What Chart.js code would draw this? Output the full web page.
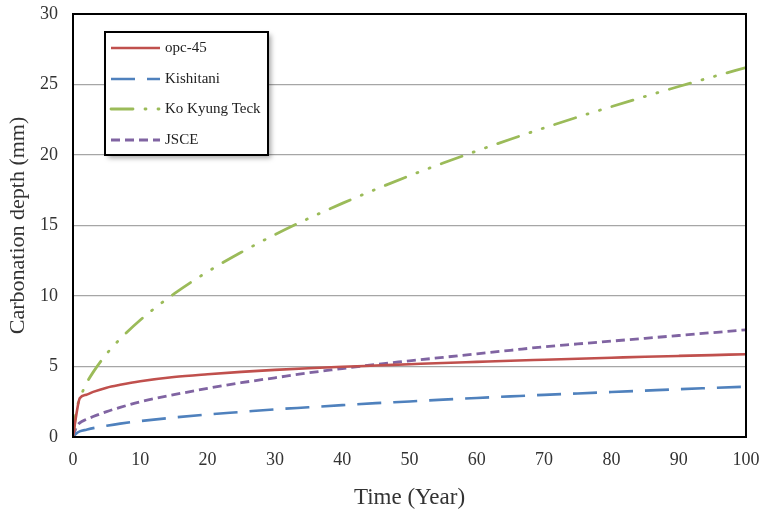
<!DOCTYPE html>
<html>
<head>
<meta charset="utf-8">
<script src="https://cdn.jsdelivr.net/npm/chart.js@4/dist/chart.umd.min.js"></script>
<style>
  html, body { margin: 0; padding: 0; background: #fff; }
  #wrap { width: 763px; height: 510px; position: relative; }
</style>
</head>
<body>
<div id="wrap"><canvas id="chart" width="763" height="510"></canvas></div>
<script>
// time axis (years) shared by every series
var years = [0, 0.5, 1, 2, 3, 5, 7, 10, 15, 20, 25, 30, 35, 40, 45, 50, 55, 60, 65, 70, 75, 80, 85, 90, 95, 100];

// carbonation depth (mm)
var opc45 = [0, 1.6, 2.75, 3.0, 3.2, 3.5, 3.7, 3.95, 4.25, 4.45, 4.62, 4.76, 4.88, 4.98, 5.07, 5.16, 5.25, 5.33, 5.41, 5.48, 5.55, 5.62, 5.69, 5.75, 5.81, 5.87];
var kishitani = [0, 0.25, 0.4, 0.52, 0.63, 0.8, 0.95, 1.13, 1.38, 1.6, 1.78, 1.96, 2.11, 2.26, 2.4, 2.52, 2.65, 2.77, 2.88, 2.99, 3.09, 3.19, 3.29, 3.39, 3.48, 3.57];
var koKyungTeck = [0, 1.9, 2.7, 3.8, 4.6, 5.9, 6.95, 8.3, 10.15, 11.72, 13.1, 14.35, 15.5, 16.57, 17.57, 18.53, 19.43, 20.29, 21.12, 21.92, 22.69, 23.43, 24.15, 24.86, 25.54, 26.2];
var jsce = [0, 0.7, 1.0, 1.25, 1.45, 1.8, 2.1, 2.5, 3.0, 3.45, 3.85, 4.2, 4.55, 4.85, 5.15, 5.4, 5.65, 5.9, 6.15, 6.4, 6.6, 6.8, 7.0, 7.2, 7.4, 7.6];

var seriesNames = ["opc-45", "Kishitani", "Ko Kyung Teck", "JSCE"];

var xTicks = [0, 10, 20, 30, 40, 50, 60, 70, 80, 90, 100];
var yTicks = [0, 5, 10, 15, 20, 25, 30];

function pts(vals) {
  return years.map(function (t, i) { return { x: t, y: vals[i] }; });
}

var serif = '"Liberation Serif", "Times New Roman", serif';

/* legend box drawn inside the plot, like the original */
var boxLegend = {
  id: "boxLegend",
  afterDraw: function (chart) {
    var ctx = chart.ctx;
    var x0 = 105, y0 = 32, w = 163, h = 123;
    ctx.save();
    ctx.shadowColor = "rgba(0,0,0,0.35)";
    ctx.shadowBlur = 5;
    ctx.shadowOffsetX = 3;
    ctx.shadowOffsetY = 3;
    ctx.fillStyle = "#fff";
    ctx.fillRect(x0, y0, w, h);
    ctx.restore();

    ctx.save();
    ctx.strokeStyle = "#000";
    ctx.lineWidth = 2;
    ctx.strokeRect(x0, y0, w, h);

    var rows = [48, 79, 109, 140];
    chart.data.datasets.forEach(function (ds, i) {
      var y = rows[i];
      ctx.beginPath();
      ctx.strokeStyle = ds.borderColor;
      ctx.lineWidth = ds.borderWidth;
      ctx.lineCap = ds.borderCapStyle || "butt";
      ctx.setLineDash(ds.borderDash || []);
      ctx.moveTo(111, y);
      ctx.lineTo(160, y);
      ctx.stroke();
      ctx.setLineDash([]);
      ctx.fillStyle = "#222";
      ctx.font = "15px " + serif;
      ctx.textBaseline = "middle";
      ctx.fillText(ds.label, 165, y);
    });
    ctx.restore();
  }
};

/* black frame around the plot area */
var frame = {
  id: "frame",
  afterDatasetsDraw: function (chart) {
    var a = chart.chartArea, ctx = chart.ctx;
    ctx.save();
    ctx.strokeStyle = "#000";
    ctx.lineWidth = 2;
    ctx.strokeRect(a.left, a.top, a.right - a.left, a.bottom - a.top);
    ctx.restore();
  }
};

new Chart(document.getElementById("chart").getContext("2d"), {
  type: "line",
  data: {
    datasets: [
      {
        label: seriesNames[0],
        data: pts(opc45),
        borderColor: "#c0504d",
        borderWidth: 2.6,
        pointRadius: 0,
        cubicInterpolationMode: "monotone"
      },
      {
        label: seriesNames[1],
        data: pts(kishitani),
        borderColor: "#4f81bd",
        borderWidth: 2.6,
        borderDash: [24, 12],
        pointRadius: 0,
        cubicInterpolationMode: "monotone"
      },
      {
        label: seriesNames[2],
        data: pts(koKyungTeck),
        borderColor: "#9bbb59",
        borderWidth: 2.8,
        borderDash: [22, 12, 1, 12, 1, 12],
        borderCapStyle: "round",
        pointRadius: 0,
        cubicInterpolationMode: "monotone"
      },
      {
        label: seriesNames[3],
        data: pts(jsce),
        borderColor: "#8064a2",
        borderWidth: 2.8,
        borderDash: [9, 5],
        pointRadius: 0,
        cubicInterpolationMode: "monotone"
      }
    ]
  },
  options: {
    responsive: false,
    animation: false,
    layout: { padding: { top: 14, right: 17, left: 0, bottom: 0 } },
    plugins: {
      legend: { display: false },
      tooltip: { enabled: false }
    },
    scales: {
      x: {
        type: "linear",
        min: 0,
        max: 100,
        afterBuildTicks: function (s) { s.ticks = xTicks.map(function (v) { return { value: v }; }); },
        afterFit: function (s) {
          s.height = 73;
          s.paddingLeft = 0;
          s.paddingRight = 0;
        },
        grid: { display: false, drawOnChartArea: false, drawTicks: true, tickLength: 5, tickColor: "#000" },
        border: { display: true, color: "#000", width: 2 },
        ticks: { color: "#333", font: { family: serif, size: 18 }, padding: 7, maxRotation: 0 },
        title: {
          display: true,
          text: "Time (Year)",
          color: "#333",
          font: { family: serif, size: 23 },
          padding: { top: 8, bottom: -2 }
        }
      },
      y: {
        min: 0,
        max: 30,
        afterBuildTicks: function (s) { s.ticks = yTicks.map(function (v) { return { value: v }; }); },
        afterFit: function (s) {
          s.width = 73;
          s.paddingTop = 0;
          s.paddingBottom = 0;
        },
        grid: { color: "#a6a6a6", lineWidth: 1.2, drawTicks: false },
        border: { display: true, color: "#000", width: 2 },
        ticks: { color: "#333", font: { family: serif, size: 18 }, padding: 15 },
        title: {
          display: true,
          text: "Carbonation depth (mm)",
          color: "#333",
          font: { family: serif, size: 22 },
          padding: { top: 5, bottom: 4 }
        }
      }
    }
  },
  plugins: [frame, boxLegend]
});
</script>
</body>
</html>
